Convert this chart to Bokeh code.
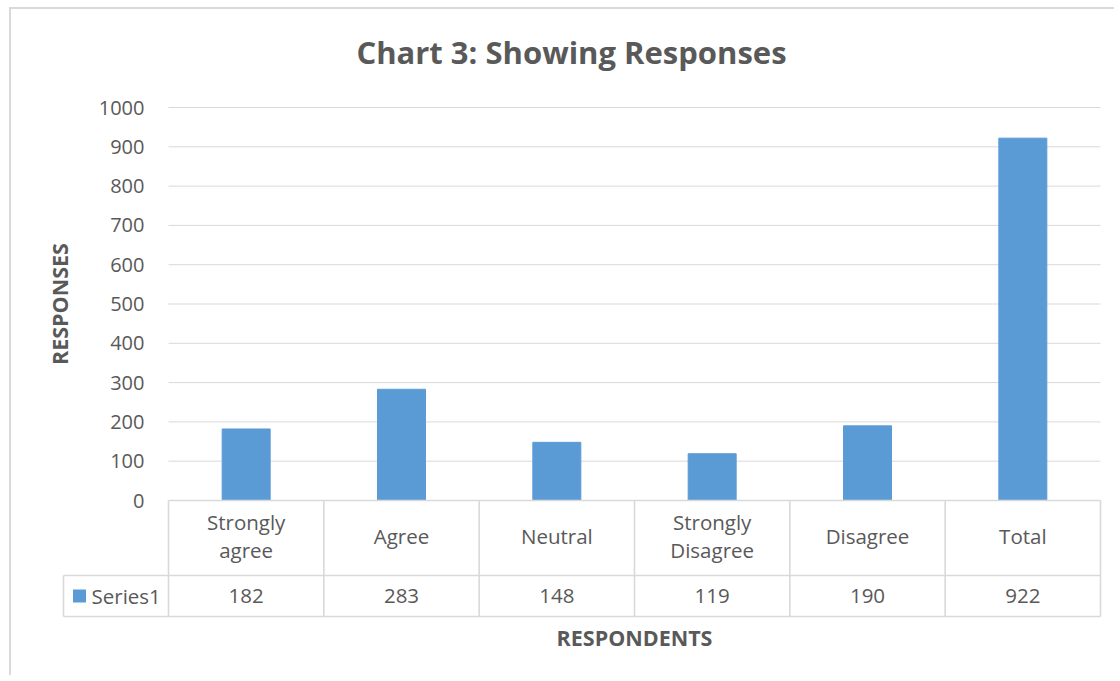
from bokeh.plotting import figure
from bokeh.models import ColumnDataSource, Range1d, LinearAxis, FixedTicker
from bokeh.core.properties import value
from bokeh.embed import file_html
from bokeh.resources import INLINE

# ---- data ----
categories = ["Strongly agree", "Agree", "Neutral", "Strongly Disagree", "Disagree", "Total"]
responses = [182, 283, 148, 119, 190, 922]
series_name = "Series1"
y_ticks = [0, 100, 200, 300, 400, 500, 600, 700, 800, 900, 1000]
x_title = "RESPONDENTS"
y_title = "RESPONSES"
chart_title = "Chart 3: Showing Responses"

# ---- styling / layout constants ----
FONT = "Open Sans"
TXT = "#595959"
BAR = "#5B9BD5"
LINE = "#D9D9D9"
COL_PX = 155.33          # pixels per category column
UNIT_PX = 0.393          # pixels per response unit
W, H = 1105, 668
ML, MR, MT, MB = 28, 13, 84, 9

n = len(categories)
x_start = -129 / COL_PX
x_end = n + 3 / COL_PX
y_top = max(y_ticks) + 14 / UNIT_PX
y_bot = y_top - (H - MB - MT) / UNIT_PX
row_div = -75 / UNIT_PX
tab_bot = -116 / UNIT_PX
leg_left = -105 / COL_PX

p = figure(width=W, height=H, output_backend="svg", toolbar_location=None,
           x_range=Range1d(x_start, x_end), y_range=Range1d(y_bot, y_top),
           x_axis_type=None, y_axis_type=None,
           min_border_left=ML, min_border_right=MR, min_border_top=MT, min_border_bottom=MB,
           title=chart_title)
p.outline_line_color = None
p.xgrid.visible = False
p.ygrid.visible = False
p.styles = {"margin-left": "9px", "margin-top": "7px",
            "border-left": f"2px solid {LINE}", "border-top": f"2px solid {LINE}"}

p.title.align = "center"
p.title.vertical_align = "top"
p.title.text_font = FONT
p.title.text_font_size = "31px"
p.title.text_font_style = "bold"
p.title.text_color = TXT
p.title.standoff = 38

# y axis at data x = 0
yax = LinearAxis(ticker=FixedTicker(ticks=y_ticks), fixed_location=0, bounds=(0, max(y_ticks)),
                 axis_label=y_title)
yax.axis_line_color = None
yax.major_tick_line_color = None
yax.minor_tick_line_color = None
yax.major_label_standoff = 18
yax.major_label_text_font = FONT
yax.major_label_text_font_size = "20px"
yax.major_label_text_color = TXT
yax.axis_label_text_font = FONT
yax.axis_label_text_font_size = "21.5px"
yax.axis_label_text_font_style = "bold"
yax.axis_label_text_color = TXT
yax.axis_label_standoff = 22
p.add_layout(yax, "left")

# gridlines
gt = [t for t in y_ticks if t > 0]
p.segment(x0=[0] * len(gt), x1=[n] * len(gt), y0=gt, y1=gt, line_color=LINE, line_width=1)

# bars
xc = [i + 0.5 for i in range(n)]
src = ColumnDataSource(dict(x=xc, top=responses, cat=[c.replace(" ", "\n") for c in categories],
                            val=[str(v) for v in responses]))
p.vbar(x="x", top="top", bottom=0, width=48 / COL_PX, source=src, fill_color=BAR, line_color=BAR)

# data table lines
hx0 = [0, leg_left, leg_left]
hx1 = [n, n, n]
hy = [0, row_div, tab_bot]
p.segment(x0=hx0, x1=hx1, y0=hy, y1=hy, line_color=LINE, line_width=1.6)
vx = list(range(n + 1)) + [leg_left]
vy0 = [0] * (n + 1) + [row_div]
p.segment(x0=vx, x1=vx, y0=vy0, y1=[tab_bot] * (n + 2), line_color=LINE, line_width=1.6)

# table texts
p.text(x="x", y=row_div / 2 + 2 / UNIT_PX, text="cat", source=src, text_align="center",
       text_baseline="middle", text_font=value(FONT), text_font_size="20.5px", text_color=TXT,
       text_line_height=1.0)
p.text(x="x", y=(row_div + tab_bot) / 2, text="val", source=src, text_align="center",
       text_baseline="middle", text_font=value(FONT), text_font_size="20.5px", text_color=TXT)

# legend key
p.scatter(x=[-89 / COL_PX], y=[(row_div + tab_bot) / 2], marker="square", size=13,
          fill_color=BAR, line_color=None)
p.text(x=[-77 / COL_PX], y=[(row_div + tab_bot) / 2], text=[series_name], text_align="left",
       text_baseline="middle", text_font=value(FONT), text_font_size="20.5px", text_color=TXT)

# x axis title (centred under the category columns)
p.text(x=[n / 2], y=[-137 / UNIT_PX], text=[x_title], text_align="center", text_baseline="middle",
       text_font=value(FONT), text_font_size="21.5px", text_font_style="bold", text_color=TXT)

open("out.html", "w").write(file_html(p, INLINE))
